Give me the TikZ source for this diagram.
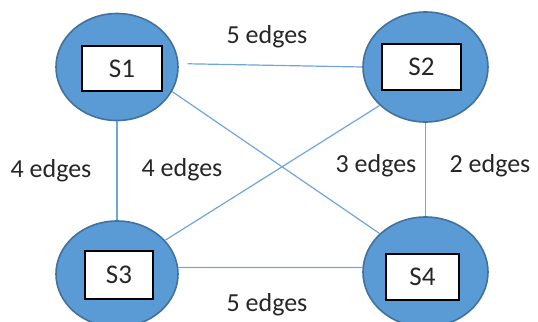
\documentclass[tikz,border=0pt]{standalone}
\usepackage{fontspec}
\setmainfont{Carlito}
\usetikzlibrary{shapes.geometric}
\definecolor{stationfill}{HTML}{5B9BD5}
\definecolor{stationline}{HTML}{41719C}
\definecolor{linkblue}{HTML}{6FA6DB}
\definecolor{textgray}{HTML}{262626}
\begin{document}
\begin{tikzpicture}[x=0.5pt,y=-0.5pt,
  station/.style={ellipse,draw=stationline,fill=stationfill,line width=0.8pt,inner sep=0pt},
  tag/.style={draw=black,fill=white,line width=0.7pt,inner sep=0pt,font=\fontsize{13.5}{16}\selectfont,text=textgray},
  link/.style={draw=linkblue,line width=0.6pt},
  count/.style={font=\fontsize{13}{16}\selectfont,text=textgray,inner sep=0pt}]
\clip (0,0) rectangle (538,322);
\useasboundingbox (0,0) rectangle (538,322);
% stations
\node[station,minimum width=61pt,minimum height=53.5pt] (s1) at (117,67) {};
\node[station,minimum width=62.5pt,minimum height=55pt] (s2) at (425.5,67) {};
\node[station,minimum width=61pt,minimum height=53pt] (s3) at (117,274) {};
\node[station,minimum width=62.5pt,minimum height=55pt] (s4) at (425.5,272) {};
% name tags
\node[tag,minimum width=40pt,minimum height=22.5pt] (t1) at (122,68.5) {S1};
\node[tag,minimum width=39.5pt,minimum height=23pt] (t2) at (421.5,67) {S2};
\node[tag,minimum width=34pt,minimum height=24pt] (t3) at (119,275) {S3};
\node[tag,minimum width=36.5pt,minimum height=23pt] (t4) at (422.5,277) {S4};
% links
\draw[link] ([xshift=4.5pt]s1.3) -- (s2.180);
\draw[link] (s3.6) -- (s4.176);
\draw[link] (s1.south) -- (s3.north);
\draw[link] (s2.south) -- (s4.north);
\draw[link] (s1.-24) -- (s4.140);
\draw[link] (s2.220) -- (s3.35);
% edge counts
\node[count] (c12) at (267,37) {5 edges};
\node[count] (c34) at (267,305) {5 edges};
\node[count] (c13) at (51,171) {4 edges};
\node[count] (c14) at (182,170) {4 edges};
\node[count] (c23) at (376,166) {3 edges};
\node[count] (c24) at (490,166) {2 edges};
\end{tikzpicture}
\end{document}
